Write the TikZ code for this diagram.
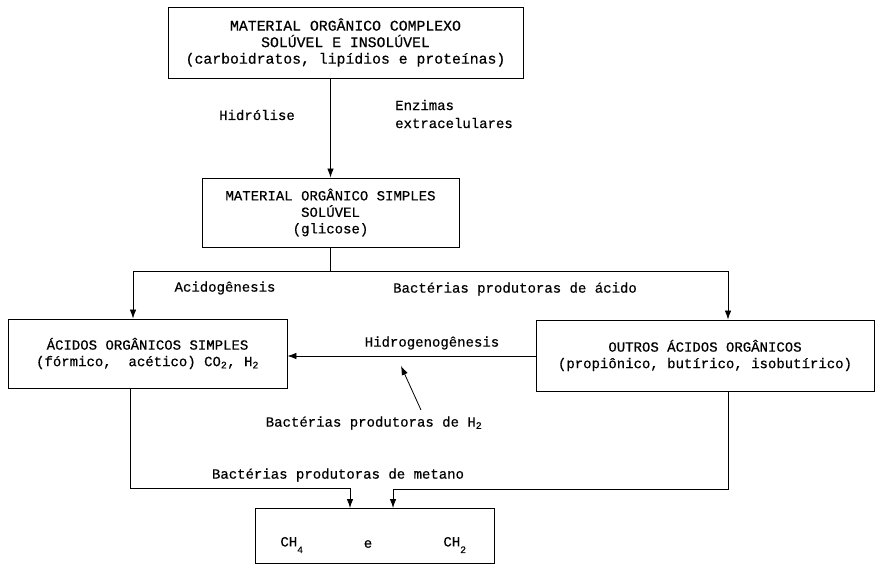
\documentclass[tikz,border=0pt]{standalone}
\usepackage{fontspec}
\setmainfont{Liberation Mono}[FakeBold=0.5]
\usetikzlibrary{arrows.meta}
\begin{document}
\begin{tikzpicture}[x=1pt,y=-1pt,
  box/.style={draw,line width=0.9pt,inner sep=0pt,align=center,
    font=\fontsize{14}{16.5}\selectfont},
  lbl/.style={inner sep=0pt,font=\fontsize{14}{17}\selectfont},
  conn/.style={line width=0.8pt},
  arr/.style={line width=0.8pt,-{Latex[length=9pt,width=6.5pt]}}]
\useasboundingbox (0,0) rectangle (880,565);
% boxes
\node[box,minimum width=355pt,minimum height=71pt,font=\fontsize{14.8}{16.5}\selectfont] (b1) at (345.5,42.5)
  {MATERIAL ORGÂNICO COMPLEXO\\SOLÚVEL E INSOLÚVEL\\(carboidratos, lipídios e proteínas)};
\node[box,minimum width=257pt,minimum height=69pt] (b2) at (330.5,212.5)
  {MATERIAL ORGÂNICO SIMPLES\\SOLÚVEL\\(glicose)};
\node[box,minimum width=279pt,minimum height=69pt] (b3) at (147.5,353.5)
  {ÁCIDOS ORGÂNICOS SIMPLES\\(fórmico,\ \ acético) CO\textsubscript{2}, H\textsubscript{2}};
\node[box,minimum width=338pt,minimum height=71pt] (b4) at (705,355.5)
  {OUTROS ÁCIDOS ORGÂNICOS\\(propiônico, butírico, isobutírico)};
\node[box,minimum width=239pt,minimum height=55pt] (b5) at (374.5,535.5) {};
\node[lbl] (ch4) at (292,545) {CH\raisebox{-0.6ex}{\textsubscript{4}}};
\node[lbl] (e) at (368,544) {e};
\node[lbl] (ch2) at (455,545) {CH\raisebox{-0.6ex}{\textsubscript{2}}};
% labels
\node[lbl] (hid) at (257,115) {Hidrólise};
\node[lbl,anchor=west] (enz) at (395,105) {Enzimas};
\node[lbl,anchor=west] (ext) at (395,123) {extracelulares};
\node[lbl] (acg) at (225,288) {Acidogênesis};
\node[lbl] (bpa) at (515,289) {Bactérias produtoras de ácido};
\node[lbl] (hgg) at (432,343) {Hidrogenogênesis};
\node[lbl] (bph) at (374,423) {Bactérias produtoras de H\textsubscript{2}};
\node[lbl] (bpm) at (338,475) {Bactérias produtoras de metano};
% connectors
\draw[arr] (b1.south -| b2.north) -- (b2.north);
\coordinate (j) at (330.5,271);
\coordinate (jl) at (133,271);
\coordinate (jr) at (728,271);
\draw[conn] (b2.south) -- (j);
\draw[conn] (jl) -- (jr);
\draw[arr] (jl) -- (jl |- b3.north);
\draw[arr] (jr) -- (jr |- b4.north);
\draw[arr] (b4.west |- 0,356) -- (b3.east |- 0,356);
\coordinate (dt) at (421,410);
\coordinate (dh) at (401,366);
\draw[arr] (dt) -- (dh);
\coordinate (bl) at (130,488);
\coordinate (br) at (728,489);
\coordinate (t1) at (350,508);
\coordinate (t2) at (393,508);
\draw[arr] (bl |- b3.south) -- (bl) -| (t1);
\draw[arr] (br |- b4.south) -- (br) -| (t2);
\end{tikzpicture}
\end{document}
